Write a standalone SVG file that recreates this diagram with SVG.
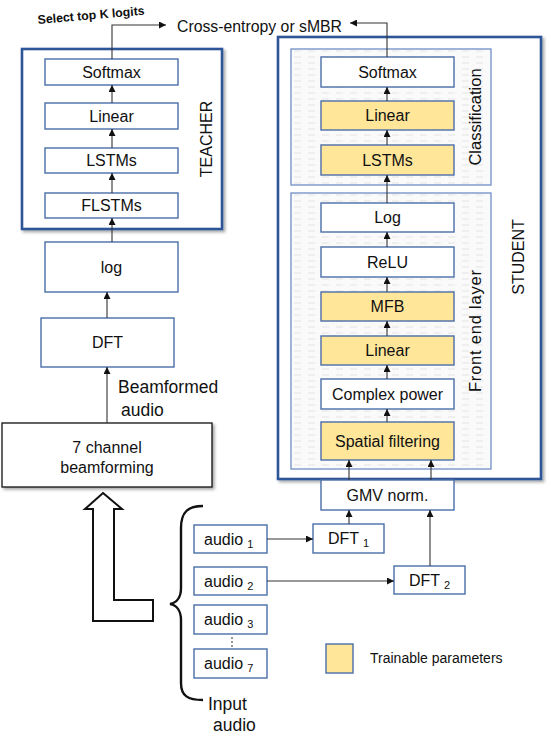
<svg xmlns="http://www.w3.org/2000/svg" width="550" height="734" viewBox="0 0 550 734">
<style>
  text { font-family: "Liberation Sans", Arial, sans-serif; fill: #111; }
  .box { fill: #ffffff; stroke: #4a6ea9; stroke-width: 1.4; }
  .train { fill: #ffe699; stroke: #4a6ea9; stroke-width: 1.4; }
  .outer { fill: #ffffff; stroke: #2f5597; stroke-width: 2.6; }
  .inner { fill: url(#dash); stroke: #6f8fc6; stroke-width: 1.3; }
  .lbl { font-size: 16px; text-anchor: middle; }
  .conn { fill: none; stroke: #333; stroke-width: 1.1; }
</style>
<defs>
  <marker id="ah" viewBox="0 0 10 10" refX="10" refY="5" markerWidth="7" markerHeight="7" markerUnits="userSpaceOnUse" orient="auto">
    <path d="M0,0 L10,5 L0,10 z" fill="#111"/>
  </marker>
  <pattern id="dash" width="14" height="6" patternUnits="userSpaceOnUse">
    <rect width="14" height="6" fill="#fafafa"/>
    <line x1="0" y1="3" x2="7" y2="3" stroke="#e4e4e4" stroke-width="1"/>
  </pattern>
  <filter id="sh" x="-5%" y="-5%" width="115%" height="115%">
    <feDropShadow dx="2" dy="2" stdDeviation="1.5" flood-color="#000" flood-opacity="0.35"/>
  </filter>
</defs>

<!-- Teacher container -->
<g id="teacher">
  <rect class="outer" x="22" y="49" width="200" height="180" filter="url(#sh)"/>
  <text transform="translate(212,139) rotate(-90)" font-size="16" text-anchor="middle">TEACHER</text>
</g>
<g id="t-softmax"><rect class="box" x="45" y="59" width="133" height="26"/><text class="lbl" x="111.5" y="77.5">Softmax</text></g>
<g id="t-linear"><rect class="box" x="45" y="103" width="133" height="26"/><text class="lbl" x="111.5" y="121.5">Linear</text></g>
<g id="t-lstms"><rect class="box" x="45" y="148" width="133" height="25"/><text class="lbl" x="111.5" y="166">LSTMs</text></g>
<g id="t-flstms"><rect class="box" x="45" y="193" width="133" height="25"/><text class="lbl" x="111.5" y="211">FLSTMs</text></g>
<g id="t-log"><rect class="box" x="45" y="242" width="133" height="50"/><text class="lbl" x="111.5" y="272.5">log</text></g>
<g id="t-dft"><rect class="box" x="41" y="318" width="133" height="49"/><text class="lbl" x="107.5" y="348">DFT</text></g>
<g id="beamforming">
  <rect x="2" y="423" width="210" height="64" fill="#fff" stroke="#111" stroke-width="1.3" filter="url(#sh)"/>
  <text class="lbl" x="107" y="453" font-size="16.5">7 channel</text>
  <text class="lbl" x="107" y="473" font-size="16.5">beamforming</text>
</g>

<!-- Student container -->
<g id="student">
  <rect class="outer" x="278" y="37" width="263" height="442" filter="url(#sh)"/>
  <text transform="translate(524,257) rotate(-90)" font-size="16" text-anchor="middle">STUDENT</text>
</g>
<g id="classification">
  <rect class="inner" x="291" y="49" width="200" height="136"/>
  <text transform="translate(481,117) rotate(-90)" font-size="16.5" text-anchor="middle">Classification</text>
</g>
<g id="frontend">
  <rect class="inner" x="291" y="193" width="200" height="276"/>
  <text transform="translate(481,331) rotate(-90)" font-size="16.5" text-anchor="middle" textLength="122">Front end layer</text>
</g>
<g id="s-softmax"><rect class="box" x="321" y="57" width="133" height="30"/><text class="lbl" x="387.5" y="77.5">Softmax</text></g>
<g id="s-linear"><rect class="train" x="321" y="101" width="133" height="29"/><text class="lbl" x="387.5" y="121">Linear</text></g>
<g id="s-lstms"><rect class="train" x="321" y="145" width="133" height="30"/><text class="lbl" x="387.5" y="165.5">LSTMs</text></g>
<g id="s-log"><rect class="box" x="321" y="203" width="133" height="29"/><text class="lbl" x="387.5" y="223">Log</text></g>
<g id="s-relu"><rect class="box" x="321" y="247" width="133" height="30"/><text class="lbl" x="387.5" y="267.5">ReLU</text></g>
<g id="s-mfb"><rect class="train" x="321" y="292" width="133" height="29"/><text class="lbl" x="387.5" y="312">MFB</text></g>
<g id="s-linear2"><rect class="train" x="321" y="336" width="133" height="29"/><text class="lbl" x="387.5" y="356">Linear</text></g>
<g id="s-power"><rect class="box" x="321" y="379" width="133" height="30"/><text class="lbl" x="387.5" y="399.5">Complex power</text></g>
<g id="s-spatial"><rect class="train" x="321" y="422" width="133" height="38"/><text class="lbl" x="387.5" y="446.5">Spatial filtering</text></g>
<g id="gmv"><rect class="box" x="321" y="480" width="133" height="30"/><text class="lbl" x="387.5" y="500.5">GMV norm.</text></g>

<g id="dft1"><rect class="box" x="313" y="524" width="71" height="29"/><text x="328" y="544" font-size="16">DFT<tspan font-size="11" dx="4" dy="3">1</tspan></text></g>
<g id="dft2"><rect class="box" x="394" y="566" width="71" height="28"/><text x="409" y="586" font-size="16">DFT<tspan font-size="11" dx="4" dy="3">2</tspan></text></g>

<g id="audio1"><rect class="box" x="194" y="525" width="73" height="28"/><text x="204" y="545" font-size="16">audio<tspan font-size="11" dx="4" dy="3">1</tspan></text></g>
<g id="audio2"><rect class="box" x="194" y="567" width="73" height="28"/><text x="204" y="587" font-size="16">audio<tspan font-size="11" dx="4" dy="3">2</tspan></text></g>
<g id="audio3"><rect class="box" x="194" y="605" width="73" height="29"/><text x="204" y="625" font-size="16">audio<tspan font-size="11" dx="4" dy="3">3</tspan></text></g>
<g id="audio7"><rect class="box" x="194" y="649" width="73" height="29"/><text x="204" y="669" font-size="16">audio<tspan font-size="11" dx="4" dy="3">7</tspan></text></g>
<g id="dots">
  <circle cx="232" cy="638" r="0.8" fill="#111"/>
  <circle cx="232" cy="642" r="0.8" fill="#111"/>
  <circle cx="232" cy="646" r="0.8" fill="#111"/>
</g>

<g id="legend">
  <rect x="326" y="644" width="27" height="29" fill="#ffe699" stroke="#4a6ea9" stroke-width="1.4"/>
  <text x="370" y="663" font-size="14">Trainable parameters</text>
</g>

<g id="input-audio">
  <path d="M203,506 C188,506 181,512 181,528 L181,588 C181,598 176,603 170,604 C176,605 181,610 181,620 L181,683 C181,696 188,700 203,700" fill="none" stroke="#111" stroke-width="2.4"/>
  <text x="208" y="710" font-size="17.5">Input</text>
  <text x="213" y="731" font-size="17.5">audio</text>
</g>

<g id="hollow-arrow">
  <polygon points="103,493 122,509 114,509 114,600 153,600 153,621 93,621 93,509 85,509" fill="#fff" stroke="#111" stroke-width="2"/>
</g>

<g id="labels">
  <text x="118" y="393" font-size="17.5">Beamformed</text>
  <text x="121" y="416" font-size="17.5">audio</text>
  <text x="177" y="32" font-size="15.8">Cross-entropy or sMBR</text>
  <text transform="translate(38,24) rotate(-5)" font-size="12.3" font-weight="bold">Select top K logits</text>
</g>

<g id="connectors">
  <path class="conn" d="M112,59 L112,25 L166,25" marker-end="url(#ah)"/>
  <path class="conn" d="M387,57 L387,23 L350,23" marker-end="url(#ah)"/>
  <line class="conn" x1="112" y1="103" x2="112" y2="85" marker-end="url(#ah)"/>
  <line class="conn" x1="112" y1="148" x2="112" y2="129" marker-end="url(#ah)"/>
  <line class="conn" x1="112" y1="193" x2="112" y2="173" marker-end="url(#ah)"/>
  <line class="conn" x1="112" y1="242" x2="112" y2="218" marker-end="url(#ah)"/>
  <line class="conn" x1="107" y1="318" x2="107" y2="292" marker-end="url(#ah)"/>
  <line class="conn" x1="107" y1="423" x2="107" y2="367" marker-end="url(#ah)"/>
  <line class="conn" x1="387" y1="101" x2="387" y2="87" marker-end="url(#ah)"/>
  <line class="conn" x1="387" y1="145" x2="387" y2="130" marker-end="url(#ah)"/>
  <line class="conn" x1="387" y1="203" x2="387" y2="175" marker-end="url(#ah)"/>
  <line class="conn" x1="387" y1="247" x2="387" y2="232" marker-end="url(#ah)"/>
  <line class="conn" x1="387" y1="292" x2="387" y2="277" marker-end="url(#ah)"/>
  <line class="conn" x1="387" y1="336" x2="387" y2="321" marker-end="url(#ah)"/>
  <line class="conn" x1="387" y1="379" x2="387" y2="365" marker-end="url(#ah)"/>
  <line class="conn" x1="387" y1="422" x2="387" y2="409" marker-end="url(#ah)"/>
  <line class="conn" x1="349" y1="480" x2="349" y2="460" marker-end="url(#ah)"/>
  <line class="conn" x1="431" y1="480" x2="431" y2="460" marker-end="url(#ah)"/>
  <line class="conn" x1="349" y1="524" x2="349" y2="510" marker-end="url(#ah)"/>
  <line class="conn" x1="430" y1="566" x2="430" y2="510" marker-end="url(#ah)"/>
  <line class="conn" x1="267" y1="539" x2="313" y2="539" marker-end="url(#ah)"/>
  <line class="conn" x1="267" y1="581" x2="394" y2="581" marker-end="url(#ah)"/>
</g>
</svg>
